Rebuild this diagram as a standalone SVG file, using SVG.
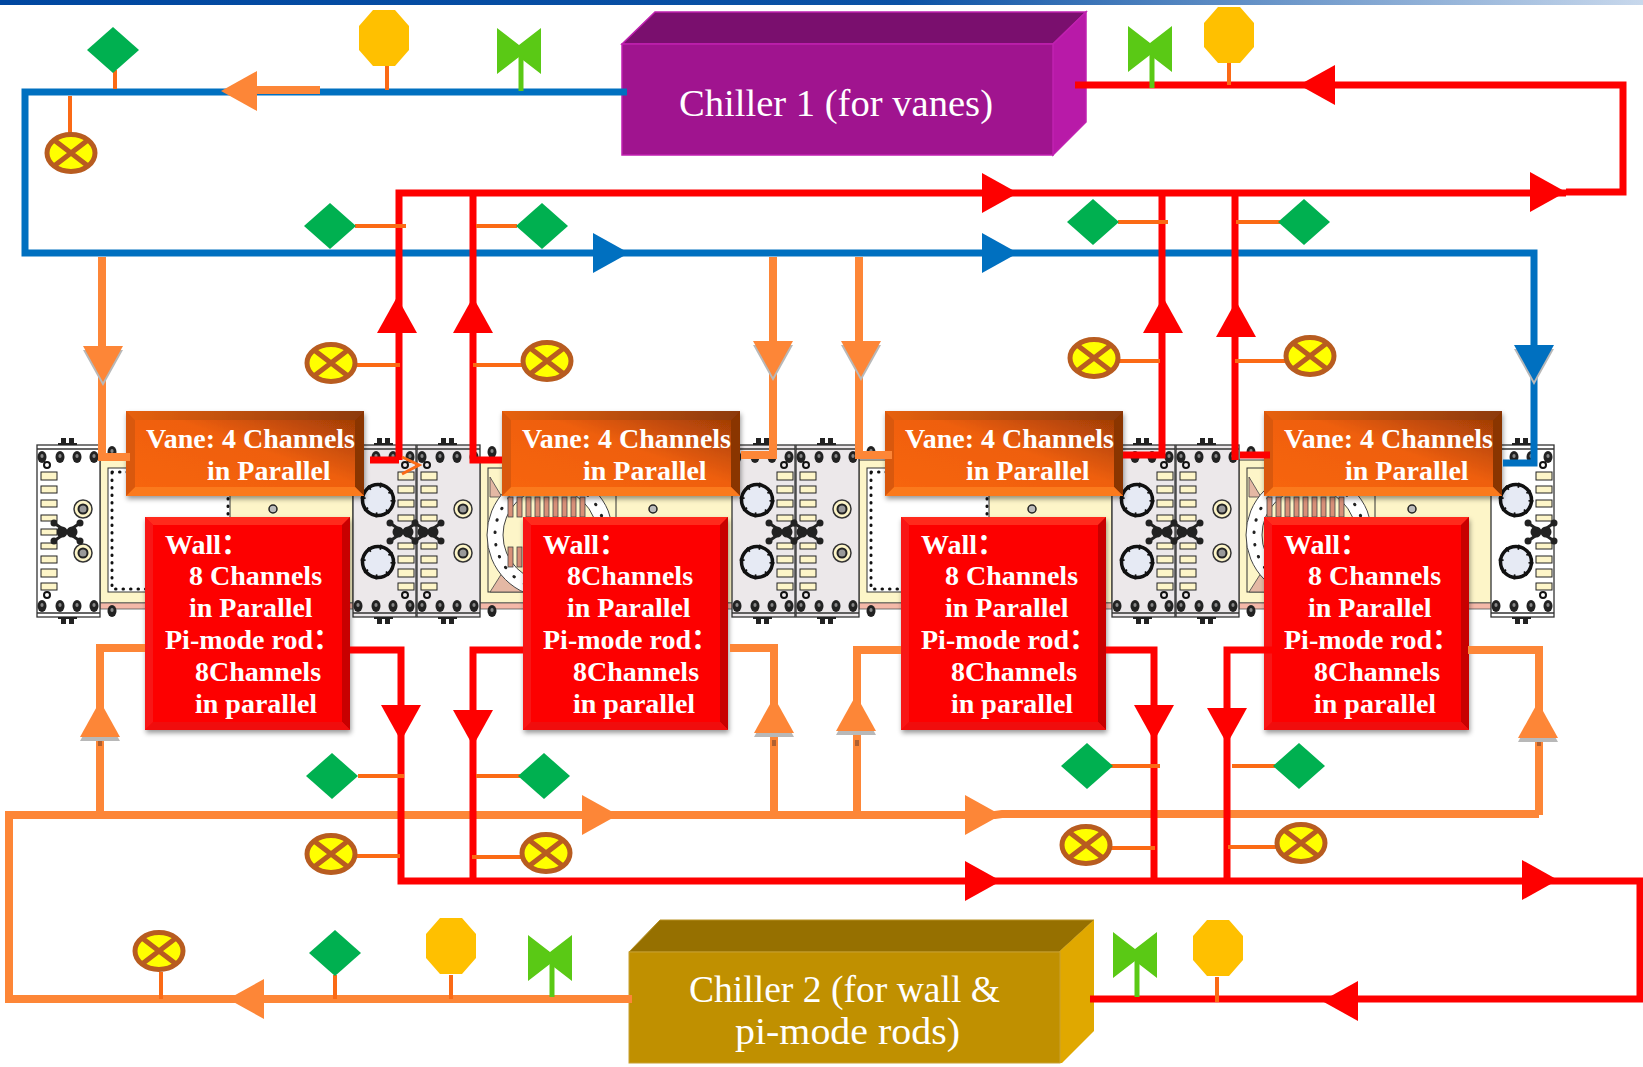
<svg xmlns="http://www.w3.org/2000/svg" xmlns:xlink="http://www.w3.org/1999/xlink" width="1643" height="1067" viewBox="0 0 1643 1067">
<style>
text{font-family:"Liberation Serif","Noto Sans CJK SC",serif;fill:#fff}
.lbl{font-size:28px;font-weight:bold}
.chl{font-size:38px}
.ln{fill:none;stroke-width:7;stroke-linejoin:miter}
.bl{stroke:#0070c0}.rd{stroke:#fe0000}.or{stroke:#fd8637;stroke-width:8}
.st{stroke:#fb6a15;stroke-width:4;fill:none}
.gs{stroke:#5ac915;stroke-width:5;fill:none}
.d{fill:#222}
.edge{fill:none;stroke:#333;stroke-width:1.3}
.cr{fill:#fdf5c8;stroke:#222;stroke-width:1}
</style>
<defs>
<linearGradient id="bar" x1="0" x2="1" y1="0" y2="0"><stop offset="0" stop-color="#0047a0"/><stop offset=".55" stop-color="#0b52a5"/><stop offset="1" stop-color="#c8d8ec"/></linearGradient>
<linearGradient id="vg" x1="0" y1="1" x2="1" y2="0"><stop offset="0" stop-color="#f8660a"/><stop offset=".55" stop-color="#ef5f0a"/><stop offset="1" stop-color="#933705"/></linearGradient>
<linearGradient id="vo" x1="0" y1="0" x2="1" y2="0"><stop offset="0" stop-color="#e8620f"/><stop offset="1" stop-color="#8c3a0b"/></linearGradient>
<filter id="sh" x="-10%" y="-10%" width="125%" height="125%"><feDropShadow dx="1" dy="3" stdDeviation="2.5" flood-color="#000" flood-opacity=".4"/></filter>
<polygon id="ah" points="0,0 -36,-20 -36,20"/>
<polygon id="dm" points="0,-23 26,0 0,23 -26,0"/>
<polygon id="oc" points="-11,-28 11,-28 25,-12 25,12 11,28 -11,28 -25,12 -25,-12"/>
<path id="bt" d="M-22,-23 L0,-6 L22,-23 L22,23 L0,6 L-22,23 Z" stroke-linejoin="round"/>
<g id="xc"><ellipse rx="24" ry="18.5" fill="#ffff00" stroke="#b85c20" stroke-width="5"/><path d="M-17,-13 L17,13 M-17,13 L17,-13" stroke="#b85c20" stroke-width="5"/></g>
<g id="bolt"><ellipse rx="4.5" ry="6" fill="#222"/><ellipse cy="-1" rx="1.6" ry="2" fill="#888"/></g>
<g id="tabs" class="d"><rect x="0" y="0" width="5" height="6"/><rect x="8" y="0" width="5" height="6"/><rect x="-3" y="5" width="19" height="2"/></g>
<g id="bolts">
<use xlink:href="#bolt" x="5" y="12"/><use xlink:href="#bolt" x="23" y="12"/><use xlink:href="#bolt" x="40" y="12"/><use xlink:href="#bolt" x="57" y="12"/>
<use xlink:href="#bolt" x="5" y="161"/><use xlink:href="#bolt" x="23" y="161"/><use xlink:href="#bolt" x="40" y="161"/><use xlink:href="#bolt" x="57" y="161"/>
<use xlink:href="#tabs" x="24" y="-7"/><use xlink:href="#tabs" transform="translate(24,179) scale(1,-1)"/>
</g>
<g id="rects" class="cr">
<rect y="27" width="16" height="8"/><rect y="41" width="16" height="7"/><rect y="55" width="16" height="7"/><rect y="70" width="16" height="6"/>
<rect y="98" width="16" height="6"/><rect y="111" width="16" height="7"/><rect y="124" width="16" height="8"/><rect y="138" width="16" height="7"/>
</g>
<g id="cross" class="d"><circle cx="-5" r="5.5"/><circle cx="5" r="5.5"/><circle cx="-13" cy="-9" r="3.5"/><circle cx="13" cy="-9" r="3.5"/><circle cx="-13" cy="9" r="3.5"/><circle cx="13" cy="9" r="3.5"/><path d="M-13,-9 L13,9 M-13,9 L13,-9" stroke="#222" stroke-width="3"/></g>
<g id="big"><circle r="15.5" fill="#e6eaf4" stroke="#111" stroke-width="3.5"/><circle r="15" fill="none" stroke="#111" stroke-width="5" stroke-dasharray="2 10"/></g>
<g id="ring"><circle r="9" fill="#fdf5c8" stroke="#333" stroke-width="1.5"/><circle r="4.5" fill="#999" stroke="#222" stroke-width="2"/></g>
<g id="f1">
<rect width="63" height="172" stroke="#333" stroke-width="1.3"/><path class="edge" d="M0,4H63M0,168H63"/>
<use xlink:href="#bolts"/><use xlink:href="#big" x="25" y="55"/><use xlink:href="#big" x="25" y="117"/>
<use xlink:href="#rects" x="45"/><use xlink:href="#cross" x="50" y="87"/>
<circle cx="52" cy="20" r="3" fill="none" stroke="#111" stroke-width="2"/><circle cx="52" cy="150" r="3" fill="none" stroke="#111" stroke-width="2"/>
</g>
<g id="f2">
<rect width="63" height="172" stroke="#333" stroke-width="1.3"/><path class="edge" d="M0,4H63M0,168H63"/>
<use xlink:href="#bolts"/><use xlink:href="#ring" x="46" y="64"/><use xlink:href="#ring" x="46" y="108"/>
<use xlink:href="#rects" x="4"/>
<circle cx="10" cy="20" r="3" fill="none" stroke="#111" stroke-width="2"/><circle cx="10" cy="150" r="3" fill="none" stroke="#111" stroke-width="2"/>
</g>
<g id="secbase">
<rect y="0" width="253" height="143" fill="#fdf5c8" stroke="#333" stroke-width="1"/>
<rect y="143" width="253" height="6" fill="#f4b8a8" stroke="#555" stroke-width=".8"/>
<use xlink:href="#bolt" x="12" y="-8"/><use xlink:href="#bolt" x="12" y="151"/>
<circle cx="173" cy="49" r="4" fill="#bbb" stroke="#222" stroke-width="1.5"/>
</g>
<g id="secA">
<use xlink:href="#secbase"/>
<rect x="8" y="8" width="122" height="124" fill="#fff" stroke="#333" stroke-width="1"/>
<rect x="12" y="12" width="116" height="117" fill="none" stroke="#111" stroke-width="3" stroke-linecap="round" stroke-dasharray=".5 7"/>
</g>
<g id="secB">
<use xlink:href="#secbase"/>
<rect x="8" y="8" width="128" height="124" fill="none" stroke="#333" stroke-width="1"/>
<path d="M10,17L22,37H10ZM10,132L22,113L43,132Z" fill="#e4b8a4" stroke="#444" stroke-width=".8"/>
<circle cx="70" cy="75" r="55" fill="none" stroke="#fff" stroke-width="16"/>
<circle cx="70" cy="75" r="63" fill="none" stroke="#444" stroke-width="1"/><circle cx="70" cy="75" r="47" fill="none" stroke="#444" stroke-width="1"/>
<circle cx="70" cy="75" r="55" fill="none" stroke="#222" stroke-width="3" stroke-linecap="round" stroke-dasharray=".5 12"/>
<g fill="#d89078" stroke="#444" stroke-width=".8">
<rect x="28" y="37" width="5" height="20"/><rect x="37" y="37" width="5" height="20"/><rect x="46" y="37" width="5" height="20"/><rect x="55" y="37" width="5" height="20"/><rect x="64" y="37" width="5" height="20"/><rect x="73" y="37" width="5" height="20"/><rect x="82" y="37" width="5" height="20"/><rect x="91" y="37" width="5" height="20"/><rect x="100" y="37" width="5" height="20"/><rect x="28" y="87" width="5" height="20"/><rect x="37" y="87" width="5" height="20"/>
</g>
</g>
<g id="vbox">
<rect width="238" height="85" fill="url(#vg)"/>
<polygon points="0,0 238,0 229,9 9,9" fill="url(#vo)"/>
<polygon points="238,0 238,85 229,76 229,9" fill="#8a3506"/>
<polygon points="0,85 238,85 229,76 9,76" fill="#fb7a1e"/>
<polygon points="0,0 9,9 9,76 0,85" fill="#d9590c"/>
</g>
<g id="wbox">
<rect width="205" height="213" fill="#fd0606"/>
<polygon points="0,0 205,0 197,8 8,8" fill="#ff2a1e"/>
<polygon points="205,0 205,213 197,205 197,8" fill="#c80606"/>
<polygon points="0,213 205,213 197,205 8,205" fill="#f01010"/>
<polygon points="0,0 8,8 8,205 0,213" fill="#f81414"/>
</g>
</defs>
<rect width="1643" height="1067" fill="#fff"/>
<rect width="1643" height="5" fill="url(#bar)"/>

<g id="cavity">
<use xlink:href="#secA" x="100" y="460"/><use xlink:href="#secB" x="480" y="460"/><use xlink:href="#secA" x="859" y="460"/><use xlink:href="#secB" x="1239" y="460"/>
<use xlink:href="#f2" x="37" y="445" fill="#fff"/><use xlink:href="#cross" x="67" y="532"/><rect x="41" y="529" width="16" height="6" class="cr"/>
<use xlink:href="#f1" x="353" y="445" fill="#ece8ea"/><use xlink:href="#f2" x="417" y="445" fill="#ece8ea"/><use xlink:href="#cross" x="428" y="532"/>
<use xlink:href="#f1" x="732" y="445" fill="#ece8ea"/><use xlink:href="#f2" x="796" y="445" fill="#ece8ea"/><use xlink:href="#cross" x="807" y="532"/>
<use xlink:href="#f1" x="1112" y="445" fill="#ece8ea"/><use xlink:href="#f2" x="1176" y="445" fill="#ece8ea"/><use xlink:href="#cross" x="1187" y="532"/>
<use xlink:href="#f1" x="1491" y="445" fill="#fff"/>
</g>

<g id="chiller-1">
<polygon points="622,44 655,12 1086,12 1053,44" fill="#7a0f6e" stroke="#c020b0" stroke-width="1.5"/>
<polygon points="1053,44 1086,12 1086,122 1053,155" fill="#b81aa8" stroke="#c020b0" stroke-width="1.5"/>
<rect x="622" y="44" width="431" height="111" fill="#a0148f" stroke="#c020b0" stroke-width="1.5"/>
<text class="chl" x="679" y="116" textLength="314" lengthAdjust="spacingAndGlyphs">Chiller 1 (for vanes)</text>
</g>
<g id="chiller-2">
<polygon points="629,952 660,920 1094,920 1059,952" fill="#967000" stroke="#b89020"/>
<polygon points="1059,952 1094,920 1094,1031 1062,1063 1059,1063" fill="#e0a800"/>
<rect x="629" y="952" width="431" height="111" fill="#c09000" stroke="#c8a030"/>
<text class="chl" x="689" y="1002" textLength="311" lengthAdjust="spacingAndGlyphs">Chiller 2 (for wall &amp;</text>
<text class="chl" x="735" y="1044" textLength="225" lengthAdjust="spacingAndGlyphs">pi-mode rods)</text>
</g>

<g id="vane-1" transform="translate(126,411)"><use xlink:href="#vbox" filter="url(#sh)"/><text class="lbl" x="20" y="37">Vane: 4 Channels</text><text class="lbl" x="81" y="69">in Parallel</text></g>
<g id="vane-2" transform="translate(502,411)"><use xlink:href="#vbox" filter="url(#sh)"/><text class="lbl" x="20" y="37">Vane: 4 Channels</text><text class="lbl" x="81" y="69">in Parallel</text></g>
<g id="vane-3" transform="translate(885,411)"><use xlink:href="#vbox" filter="url(#sh)"/><text class="lbl" x="20" y="37">Vane: 4 Channels</text><text class="lbl" x="81" y="69">in Parallel</text></g>
<g id="vane-4" transform="translate(1264,411)"><use xlink:href="#vbox" filter="url(#sh)"/><text class="lbl" x="20" y="37">Vane: 4 Channels</text><text class="lbl" x="81" y="69">in Parallel</text></g>

<g id="wall-1" transform="translate(145,517)"><use xlink:href="#wbox" filter="url(#sh)"/><text class="lbl" x="20" y="37">Wall：</text><text class="lbl" x="44" y="68">8 Channels</text><text class="lbl" x="44" y="100">in Parallel</text><text class="lbl" x="20" y="132">Pi-mode rod：</text><text class="lbl" x="50" y="164">8Channels</text><text class="lbl" x="50" y="196">in parallel</text></g>
<g id="wall-2" transform="translate(523,517)"><use xlink:href="#wbox" filter="url(#sh)"/><text class="lbl" x="20" y="37">Wall：</text><text class="lbl" x="44" y="68">8Channels</text><text class="lbl" x="44" y="100">in Parallel</text><text class="lbl" x="20" y="132">Pi-mode rod：</text><text class="lbl" x="50" y="164">8Channels</text><text class="lbl" x="50" y="196">in parallel</text></g>
<g id="wall-3" transform="translate(901,517)"><use xlink:href="#wbox" filter="url(#sh)"/><text class="lbl" x="20" y="37">Wall：</text><text class="lbl" x="44" y="68">8 Channels</text><text class="lbl" x="44" y="100">in Parallel</text><text class="lbl" x="20" y="132">Pi-mode rod：</text><text class="lbl" x="50" y="164">8Channels</text><text class="lbl" x="50" y="196">in parallel</text></g>
<g id="wall-4" transform="translate(1264,517)"><use xlink:href="#wbox" filter="url(#sh)"/><text class="lbl" x="20" y="37">Wall：</text><text class="lbl" x="44" y="68">8 Channels</text><text class="lbl" x="44" y="100">in Parallel</text><text class="lbl" x="20" y="132">Pi-mode rod：</text><text class="lbl" x="50" y="164">8Channels</text><text class="lbl" x="50" y="196">in parallel</text></g>

<g id="connectors">
<path class="ln bl" d="M627,92H25V253H1534V463H1503"/>
<path class="ln rd" d="M1075,85H1623V192H1566"/>
<path class="ln rd" d="M399,460V193H1566"/>
<path class="ln rd" d="M370,460H399"/>
<path class="ln rd" d="M473,193V460H502"/>
<path class="ln rd" d="M1162,193V455H1123"/>
<path class="ln rd" d="M1235,193V460M1240,455H1270"/>
<path class="ln or" d="M102,257V457H130"/>
<path class="ln or" d="M773,257V455H741"/>
<path class="ln or" d="M859,257V455H892"/>
<path d="M402,457L419,465L402,474" fill="none" stroke="#fb6a15" stroke-width="3"/>
<path class="ln or" d="M145,648H100V815"/>
<path class="ln or" d="M730,648H774V815"/>
<path class="ln or" d="M901,650H857V815"/>
<path class="ln or" d="M1468,650H1539V815"/>
<path class="ln or" d="M632,999H9V815H995L1002,814H1539"/>
<path class="ln rd" d="M350,650H401V881H1640V999H1090"/>
<path class="ln rd" d="M523,650H473V881"/>
<path class="ln rd" d="M1106,650H1154V881"/>
<path class="ln rd" d="M1275,650H1227V881"/>
<path d="M320,90H250" fill="none" stroke="#fd8637" stroke-width="8"/>
<path d="M100,740V775M774,740V775M857,740V775M1539,740V775" fill="none" stroke="#b06030" stroke-width="4" stroke-dasharray="6 30"/>
<g fill="#b8b8b8">
<use xlink:href="#ah" transform="translate(103,386) rotate(90)"/><use xlink:href="#ah" transform="translate(773,381) rotate(90)"/><use xlink:href="#ah" transform="translate(861,381) rotate(90)"/><use xlink:href="#ah" transform="translate(1534,385) rotate(90)"/>
<use xlink:href="#ah" transform="translate(100,705) rotate(-90)"/><use xlink:href="#ah" transform="translate(774,701) rotate(-90)"/><use xlink:href="#ah" transform="translate(856,699) rotate(-90)"/><use xlink:href="#ah" transform="translate(1538,706) rotate(-90)"/>
</g>
<g fill="#fd8637">
<use xlink:href="#ah" transform="translate(103,382) rotate(90)"/><use xlink:href="#ah" transform="translate(773,377) rotate(90)"/><use xlink:href="#ah" transform="translate(861,377) rotate(90)"/>
<use xlink:href="#ah" transform="translate(100,701) rotate(-90)"/><use xlink:href="#ah" transform="translate(774,697) rotate(-90)"/><use xlink:href="#ah" transform="translate(856,695) rotate(-90)"/><use xlink:href="#ah" transform="translate(1538,702) rotate(-90)"/>
<use xlink:href="#ah" transform="translate(618,815)"/><use xlink:href="#ah" transform="translate(1001,815)"/>
<use xlink:href="#ah" transform="translate(228,999) rotate(180)"/><use xlink:href="#ah" transform="translate(221,91) rotate(180)"/>
</g>
<g fill="#fe0000">
<use xlink:href="#ah" transform="translate(1299,85) rotate(180)"/><use xlink:href="#ah" transform="translate(1018,193)"/><use xlink:href="#ah" transform="translate(1566,192)"/>
<use xlink:href="#ah" transform="translate(397,297) rotate(-90)"/><use xlink:href="#ah" transform="translate(473,297) rotate(-90)"/><use xlink:href="#ah" transform="translate(1163,297) rotate(-90)"/><use xlink:href="#ah" transform="translate(1236,301) rotate(-90)"/>
<use xlink:href="#ah" transform="translate(401,741) rotate(90)"/><use xlink:href="#ah" transform="translate(473,746) rotate(90)"/><use xlink:href="#ah" transform="translate(1154,741) rotate(90)"/><use xlink:href="#ah" transform="translate(1227,744) rotate(90)"/>
<use xlink:href="#ah" transform="translate(1001,881)"/><use xlink:href="#ah" transform="translate(1558,880)"/><use xlink:href="#ah" transform="translate(1322,1001) rotate(180)"/>
</g>
<g fill="#0070c0">
<use xlink:href="#ah" transform="translate(629,253)"/><use xlink:href="#ah" transform="translate(1018,253)"/><use xlink:href="#ah" transform="translate(1534,381) rotate(90)"/>
</g>
</g>

<g id="instruments">
<g id="fm-1"><path class="st" d="M115,70V89"/><use xlink:href="#dm" x="113" y="50" fill="#00b050"/></g>
<g id="ts-1"><path class="st" d="M387,66V90"/><use xlink:href="#oc" x="384" y="38" fill="#ffc000"/></g>
<g id="v-1"><use xlink:href="#bt" x="519" y="51" fill="#5ac915"/><path class="gs" d="M521,55V91"/></g>
<g id="pg-1"><path class="st" d="M70,96V134"/><use xlink:href="#xc" x="71" y="153"/></g>
<g id="v-2"><use xlink:href="#bt" x="1150" y="49" fill="#5ac915"/><path class="gs" d="M1152,55V88"/></g>
<g id="ts-2"><path class="st" d="M1229,63V85"/><use xlink:href="#oc" x="1229" y="35" fill="#ffc000"/></g>
<g id="fm-2"><path class="st" d="M355,226H406"/><use xlink:href="#dm" x="330" y="226" fill="#00b050"/></g>
<g id="fm-3"><path class="st" d="M476,226H517"/><use xlink:href="#dm" x="542" y="226" fill="#00b050"/></g>
<g id="fm-4"><path class="st" d="M1118,222H1168"/><use xlink:href="#dm" x="1093" y="222" fill="#00b050"/></g>
<g id="fm-5"><path class="st" d="M1236,222H1280"/><use xlink:href="#dm" x="1304" y="222" fill="#00b050"/></g>
<g id="pg-2"><path class="st" d="M355,365H400"/><use xlink:href="#xc" x="331" y="363"/></g>
<g id="pg-3"><path class="st" d="M473,365H522"/><use xlink:href="#xc" x="547" y="361"/></g>
<g id="pg-4"><path class="st" d="M1118,361H1160"/><use xlink:href="#xc" x="1094" y="358"/></g>
<g id="pg-5"><path class="st" d="M1235,361H1285"/><use xlink:href="#xc" x="1310" y="356"/></g>
<g id="fm-6"><path class="st" d="M358,776H404"/><use xlink:href="#dm" x="332" y="776" fill="#00b050"/></g>
<g id="fm-7"><path class="st" d="M476,776H520"/><use xlink:href="#dm" x="544" y="776" fill="#00b050"/></g>
<g id="fm-8"><path class="st" d="M1110,766H1160"/><use xlink:href="#dm" x="1087" y="766" fill="#00b050"/></g>
<g id="fm-9"><path class="st" d="M1232,766H1275"/><use xlink:href="#dm" x="1299" y="766" fill="#00b050"/></g>
<g id="pg-6"><path class="st" d="M356,856H400"/><use xlink:href="#xc" x="331" y="854"/></g>
<g id="pg-7"><path class="st" d="M472,857H522"/><use xlink:href="#xc" x="546" y="853"/></g>
<g id="pg-8"><path class="st" d="M1110,848H1155"/><use xlink:href="#xc" x="1086" y="845"/></g>
<g id="pg-9"><path class="st" d="M1228,847H1276"/><use xlink:href="#xc" x="1301" y="843"/></g>
<g id="pg-10"><path class="st" d="M161,972V999"/><use xlink:href="#xc" x="159" y="951"/></g>
<g id="fm-10"><path class="st" d="M335,975V999"/><use xlink:href="#dm" x="335" y="953" fill="#00b050"/></g>
<g id="ts-3"><path class="st" d="M451,975V999"/><use xlink:href="#oc" x="451" y="946" fill="#ffc000"/></g>
<g id="v-3"><use xlink:href="#bt" x="550" y="958" fill="#5ac915"/><path class="gs" d="M552,960V997"/></g>
<g id="v-4"><use xlink:href="#bt" x="1135" y="955" fill="#5ac915"/><path class="gs" d="M1137,960V997"/></g>
<g id="ts-4"><path class="st" d="M1217,977V1002"/><use xlink:href="#oc" x="1218" y="948" fill="#ffc000"/></g>
</g>
</svg>
